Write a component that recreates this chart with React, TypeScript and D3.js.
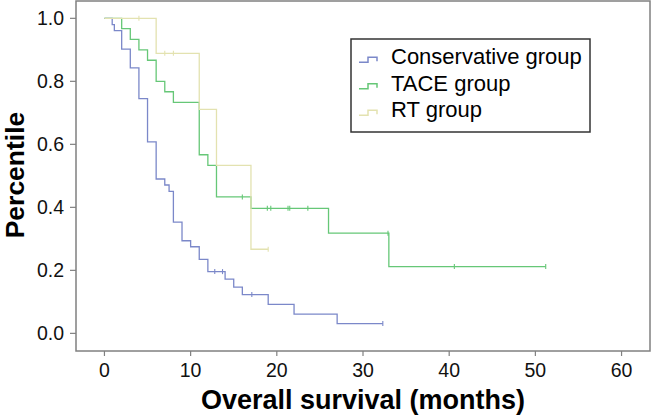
import React from "react";
import * as d3 from "d3";

const xTicks = [0, 10, 20, 30, 40, 50, 60];
const yTicks = [0, 0.2, 0.4, 0.6, 0.8, 1.0];

const consTimes = [0, 0.9, 1.15, 2, 3, 4, 5, 6, 7, 7.5, 8, 9, 10, 11, 12, 14, 15, 16, 19, 22, 27];
const consSurv = [1, 0.98, 0.961, 0.902, 0.843, 0.745, 0.608, 0.49, 0.471, 0.451, 0.353, 0.294, 0.275, 0.235, 0.196, 0.172, 0.147, 0.123, 0.092, 0.061, 0.031];
const consEnd = 32.3;
const consCensor = [12.8, 13.7, 17.1, 32.3];

const taceTimes = [0, 2, 3, 4, 5, 6, 7, 8, 11, 12, 13, 17, 26, 33];
const taceSurv = [1, 0.967, 0.933, 0.9, 0.867, 0.8, 0.767, 0.733, 0.567, 0.533, 0.433, 0.397, 0.318, 0.212];
const taceEnd = 51.2;
const taceCensor = [16.0, 18.9, 19.3, 21.3, 21.5, 23.6, 32.9, 40.6, 51.2];

const rtTimes = [0, 6, 11, 13, 17];
const rtSurv = [1, 0.889, 0.711, 0.533, 0.267];
const rtEnd = 19;
const rtCensor = [4, 7, 8, 19];

const groupNames = ["Conservative group", "TACE group", "RT group"];
const groupColors = ["#7b88c9", "#66c777", "#e3e2b0"];

const W = 651;
const H = 418;
const FONT = "'Liberation Sans', Arial, Helvetica, sans-serif";

export default function App() {
  const x = d3.scaleLinear().domain([-3.3, 63.3]).range([76, 650]);
  const y = d3.scaleLinear().domain([-0.056, 1.055]).range([351, 1]);

  const groups = [
    { times: consTimes, surv: consSurv, end: consEnd, censor: consCensor },
    { times: taceTimes, surv: taceSurv, end: taceEnd, censor: taceCensor },
    { times: rtTimes, surv: rtSurv, end: rtEnd, censor: rtCensor },
  ];

  const line = d3
    .line<[number, number]>()
    .x((d) => x(d[0]))
    .y((d) => y(d[1]))
    .curve(d3.curveStepAfter);

  const survAt = (g: typeof groups[number], t: number) => {
    let s = 1;
    for (let i = 0; i < g.times.length; i++) if (g.times[i] <= t) s = g.surv[i];
    return s;
  };

  return (
    <svg
      width={W}
      height={H}
      style={{ position: "absolute", left: 0, top: 0, background: "#fff" }}
      fontFamily={FONT}
    >
      <rect x={0} y={0} width={W} height={H} fill="#fff" />
      {/* curves */}
      {groups.map((g, gi) => {
        const pts: [number, number][] = g.times.map((t, i) => [t, g.surv[i]]);
        pts.push([g.end, g.surv[g.surv.length - 1]]);
        return (
          <g key={gi}>
            <path d={line(pts) || ""} fill="none" stroke={groupColors[gi]} strokeWidth={1.3} />
            {g.censor.map((c, ci) => {
              const s = survAt(g, c);
              return (
                <line
                  key={ci}
                  x1={x(c)}
                  x2={x(c)}
                  y1={y(s) - 2.5}
                  y2={y(s) + 2.5}
                  stroke={groupColors[gi]}
                  strokeWidth={1.1}
                />
              );
            })}
          </g>
        );
      })}
      {/* frame */}
      <rect x={76} y={1} width={574} height={350} fill="none" stroke="#808080" strokeWidth={1.5} />
      {/* y ticks */}
      {yTicks.map((t) => (
        <g key={t}>
          <line x1={70} x2={76} y1={y(t)} y2={y(t)} stroke="#808080" strokeWidth={1.2} />
          <text x={64} y={y(t) + 7} textAnchor="end" fontSize={19.5} fill="#111">
            {t.toFixed(1)}
          </text>
        </g>
      ))}
      {/* x ticks */}
      {xTicks.map((t) => (
        <g key={t}>
          <line x1={x(t)} x2={x(t)} y1={351} y2={356} stroke="#808080" strokeWidth={1.2} />
          <text x={x(t)} y={377} textAnchor="middle" fontSize={19.5} fill="#111">
            {t}
          </text>
        </g>
      ))}
      {/* axis titles */}
      <text x={363} y={409} textAnchor="middle" fontSize={27} fontWeight="bold" fill="#000">
        Overall survival (months)
      </text>
      <text
        transform="translate(24,175) rotate(-90)"
        textAnchor="middle"
        fontSize={26.5}
        fontWeight="bold"
        fill="#000"
      >
        Percentile
      </text>
      {/* legend */}
      <rect x={351} y={39} width={239} height={93} fill="#fff" stroke="#333" strokeWidth={1.5} />
      {groupNames.map((n, i) => {
        const by = 64.3 + i * 26.5;
        const iy = by - 4;
        return (
          <g key={n}>
            <path
              d={`M359,${iy + 2} H368 V${iy - 3} H377 V${iy + 1}`}
              fill="none"
              stroke={groupColors[i]}
              strokeWidth={1.5}
            />
            <text x={391} y={by} fontSize={22} fill="#000">
              {n}
            </text>
          </g>
        );
      })}
    </svg>
  );
}
